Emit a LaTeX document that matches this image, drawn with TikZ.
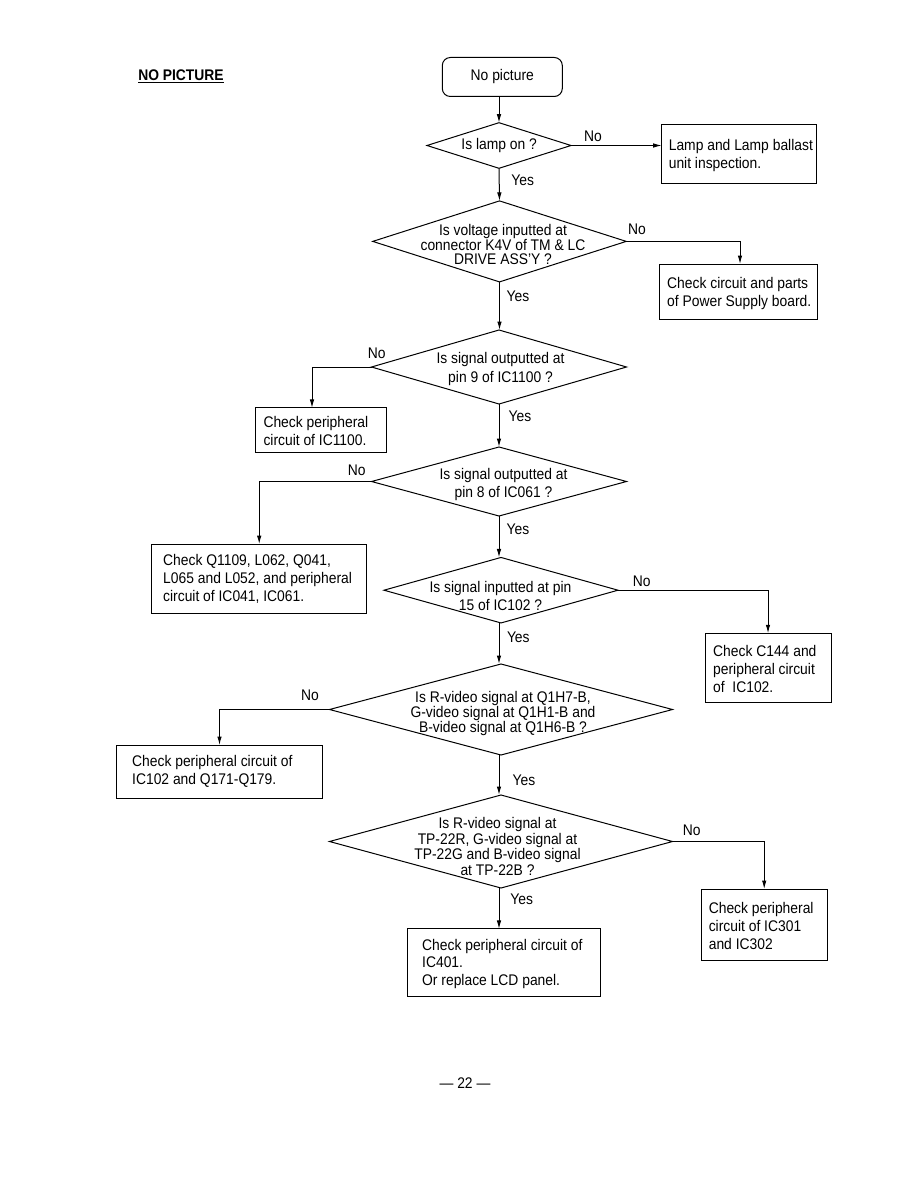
\documentclass[tikz,border=0pt]{standalone}
\usepackage{fontspec}
\setmainfont{Liberation Sans}[FakeStretch=0.9]
\usetikzlibrary{arrows.meta,shapes.geometric}
\begin{document}
\begin{tikzpicture}[x=1pt,y=-1pt, line width=1pt,
  every node/.style={font=\fontsize{15.4}{17.8}\selectfont},
  arr/.style={-{Latex[length=8.5pt,width=4.5pt]}},
  dia/.style={diamond, draw, inner sep=0pt, outer sep=0pt},
  boxx/.style={draw, rectangle, inner sep=0pt, outer sep=0pt},
  btext/.style={align=left, inner sep=0pt, anchor=west},
  dtext/.style={align=center, inner sep=0pt},
  lbl/.style={inner sep=0pt}]
\useasboundingbox (0,0) rectangle (918,1188);

% title and page number
\node[lbl, font=\bfseries\fontsize{15.4}{17}\selectfont] (title) at (181,76) {\underline{NO PICTURE}};
\node[lbl] (page) at (465,1083) {— 22 —};

% start
\node[draw, rounded corners=8pt, minimum width=120pt, minimum height=39pt, inner sep=0pt] (start) at (502.3,77) {No picture};

% diamonds
\node[dia, minimum width=144pt, minimum height=45.6pt] (d1) at (499,145.5) {};
\node[dtext] (d1t) at (499.2,146) {Is lamp on ?};

\node[dia, minimum width=253.5pt, minimum height=81pt] (d2) at (499.5,241.4) {};
\node[dtext, font=\fontsize{15.4}{14.5}\selectfont] (d2t) at (503,244.5) {Is voltage inputted at\\connector K4V of TM \& LC\\DRIVE ASS'Y ?};

\node[dia, minimum width=255pt, minimum height=74pt] (d3) at (499,367) {};
\node[dtext, font=\fontsize{15.4}{19.5}\selectfont] (d3t) at (500.5,369) {Is signal outputted at\\pin 9 of IC1100 ?};

\node[dia, minimum width=255pt, minimum height=69pt] (d4) at (499,481.5) {};
\node[dtext, font=\fontsize{15.4}{17.5}\selectfont] (d4t) at (503.5,484.5) {Is signal outputted at\\pin 8 of IC061 ?};

\node[dia, minimum width=234pt, minimum height=65.5pt] (d5) at (501,590.2) {};
\node[dtext, font=\fontsize{15.4}{17.5}\selectfont] (d5t) at (500.5,596) {Is signal inputted at pin\\15 of IC102 ?};

\node[dia, minimum width=343pt, minimum height=91pt] (d6) at (501,709.5) {};
\node[dtext, font=\fontsize{15.4}{15}\selectfont] (d6t) at (503,713.5) {Is R-video signal at Q1H7-B,\\G-video signal at Q1H1-B and\\B-video signal at Q1H6-B ?};

\node[dia, minimum width=343pt, minimum height=93pt] (d7) at (501,841.5) {};
\node[dtext, font=\fontsize{15.4}{15.5}\selectfont] (d7t) at (497.5,846.5) {Is R-video signal at\\TP-22R, G-video signal at\\TP-22G and B-video signal\\at TP-22B ?};

% boxes
\node[boxx, minimum width=155pt, minimum height=59.3pt] (b1) at (739.2,153.7) {};
\node[btext] (b1t) at (668.3,155.2) {Lamp and Lamp ballast\\unit inspection.};

\node[boxx, minimum width=158.4pt, minimum height=55.3pt] (b2) at (738.5,291.7) {};
\node[btext] (b2t) at (666.7,293.7) {Check circuit and parts\\of Power Supply board.};

\node[boxx, minimum width=131pt, minimum height=44.5pt] (b3) at (321,430.2) {};
\node[btext] (b3t) at (263,431) {Check peripheral\\circuit of IC1100.};

\node[boxx, minimum width=215pt, minimum height=69.3pt] (b4) at (259.2,578.7) {};
\node[btext] (b4t) at (162.7,579) {Check Q1109, L062, Q041,\\L065 and L052, and peripheral\\circuit of IC041, IC061.};

\node[boxx, minimum width=126pt, minimum height=69.4pt] (b5) at (768,668) {};
\node[btext] (b5t) at (712.7,669) {Check C144 and\\peripheral circuit\\of~ IC102.};

\node[boxx, minimum width=205.6pt, minimum height=53.3pt] (b6) at (219.5,771.7) {};
\node[btext] (b6t) at (131.7,771.5) {Check peripheral circuit of\\IC102 and Q171-Q179.};

\node[boxx, minimum width=126.3pt, minimum height=71pt] (b7) at (764.2,924.5) {};
\node[btext] (b7t) at (708.3,926) {Check peripheral\\circuit of IC301\\and IC302};

\node[boxx, minimum width=193.4pt, minimum height=67.7pt] (b8) at (504,962.8) {};
\node[btext] (b8t) at (421.7,964) {Check peripheral circuit of\\IC401.\\Or replace LCD panel.};

% connectors
\draw[arr] (start.south -| d1.north) -- (d1.north);
\draw[arr] (d1.east) -- (d1.east -| b1.west);
\draw[arr] (d1.south) -- (d2.south |- d2.north);
\draw[arr] (d2.east) -| ([xshift=1.5pt]b2.north);
\draw[arr] (d2.south) -- (d2.south |- d3.north);
\draw[arr] (d3.west) -| ([xshift=-9pt]b3.north);
\draw[arr] (d3.south) -- (d4.north);
\draw[arr] (d4.west) -| (b4.north);
\draw[arr] (d4.south) -- (d4.south |- d5.north);
\draw[arr] (d5.east) -| (b5.north);
\draw[arr] (d4.south |- d5.south) -- (d4.south |- d6.north);
\draw[arr] (d6.west) -| (b6.north);
\draw[arr] (d4.south |- d6.south) -- (d4.south |- d7.north);
\draw[arr] (d7.east) -| (b7.north);
\draw[arr] (d4.south |- d7.south) -- (d4.south |- b8.north);

% labels
\node[lbl] (n1) at (593,136.7) {No};
\node[lbl] (y1) at (522.7,180.7) {Yes};
\node[lbl] (n2) at (637,229) {No};
\node[lbl] (y2) at (518,296.7) {Yes};
\node[lbl] (n3) at (376.7,353) {No};
\node[lbl] (y3) at (520,416.7) {Yes};
\node[lbl] (n4) at (356.7,470) {No};
\node[lbl] (y4) at (518,529) {Yes};
\node[lbl] (n5) at (641.7,581) {No};
\node[lbl] (y5) at (518.3,637.3) {Yes};
\node[lbl] (n6) at (310,695.7) {No};
\node[lbl] (y6) at (524,780) {Yes};
\node[lbl] (n7) at (691.7,830.7) {No};
\node[lbl] (y7) at (521.7,899) {Yes};
\end{tikzpicture}
\end{document}
